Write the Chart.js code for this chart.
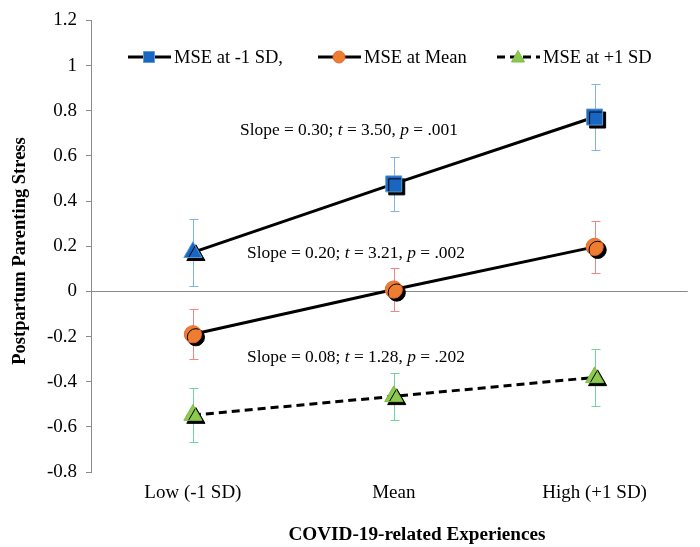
<!DOCTYPE html>
<html><head><meta charset="utf-8">
<script src="https://cdn.jsdelivr.net/npm/chart.js@4.4.1/dist/chart.umd.min.js"></script>
<style>html,body{margin:0;padding:0;background:#fff}#wrap{width:700px;height:547px;position:relative}</style>
</head><body><div id="wrap"><canvas id="c"></canvas></div>
<script>
// ---- data ----
const categories = ['Low (-1 SD)', 'Mean', 'High (+1 SD)'];
const seriesLabels = ['MSE at -1 SD,', 'MSE at Mean', 'MSE at +1 SD'];
const lowMSE = [0.173, 0.476, 0.772];
const meanMSE = [-0.19, 0.008, 0.197];
const highMSE = [-0.548, -0.465, -0.381];
const lowErr = [0.148, 0.12, 0.145];
const meanErr = [0.11, 0.097, 0.115];
const highErr = [0.12, 0.103, 0.126];
const yTickMin = -0.8, yTickMax = 1.2, yTickStep = 0.2;
const annotations = [
  [['Slope = 0.30; ','n'],['t','i'],[' = 3.50, ','n'],['p','i'],[' = .001','n']],
  [['Slope = 0.20; ','n'],['t','i'],[' = 3.21, ','n'],['p','i'],[' = .002','n']],
  [['Slope = 0.08; ','n'],['t','i'],[' = 1.28, ','n'],['p','i'],[' = .202','n']]
];
const xTitle = 'COVID-19-related Experiences';
const yTitle = 'Postpartum Parenting Stress';

// ---- styles ----
const FAM = "'Liberation Serif','Times New Roman',serif";
const series = [lowMSE, meanMSE, highMSE];
const errs = [lowErr, meanErr, highErr];
const fills = ['#1767c2', '#ed7d31', '#8dc94e'];
const borders = ['#5d9ad8', '#e8663a', '#7fbb45'];
const errColors = ['#7fb5e6', '#ef8585', '#72d39c'];
const styles = [['triangle','rect','rect'], 'circle', 'triangle'];
const radii = [[10.5, 11.3, 11.3], 8.6, 10.5];
const dashes = [[], [], [8, 5]];
const pts = arr => arr.map((v, i) => ({x: i, y: v}));

const datasets = [];
series.forEach((s, k) => {
  datasets.push({
    label: seriesLabels[k], data: pts(s), isMarker: true, showLine: false,
    pointStyle: styles[k], pointRadius: radii[k], pointHoverRadius: radii[k],
    pointBackgroundColor: fills[k], pointBorderColor: borders[k], pointBorderWidth: 1
  });
});
series.forEach((s, k) => {
  datasets.push({
    label: seriesLabels[k] + ' line', data: pts(s), borderColor: '#000', borderWidth: 3,
    borderDash: dashes[k], pointRadius: 0, tension: 0, fill: false
  });
});

const shadowPlugin = {
  id: 'shadow',
  beforeDatasetDraw(chart, args) {
    if (!chart.data.datasets[args.index].isMarker) return;
    const c = chart.ctx; c.save();
    c.shadowColor = '#000'; c.shadowOffsetX = 3; c.shadowOffsetY = 3; c.shadowBlur = 0;
  },
  afterDatasetDraw(chart, args) {
    if (!chart.data.datasets[args.index].isMarker) return;
    chart.ctx.restore();
  }
};

const errPlugin = {
  id: 'errbars',
  beforeDatasetsDraw(chart) {
    const c = chart.ctx, xs = chart.scales.x, ys = chart.scales.y;
    c.save(); c.lineWidth = 1;
    series.forEach((s, k) => {
      c.strokeStyle = errColors[k];
      s.forEach((v, i) => {
        const x = Math.round(xs.getPixelForValue(i)) + 0.5;
        const t = Math.round(ys.getPixelForValue(v + errs[k][i])) + 0.5;
        const b = Math.round(ys.getPixelForValue(v - errs[k][i])) + 0.5;
        c.beginPath();
        c.moveTo(x, t); c.lineTo(x, b);
        c.moveTo(x - 4, t); c.lineTo(x + 5, t);
        c.moveTo(x - 4, b); c.lineTo(x + 5, b);
        c.stroke();
      });
    });
    c.restore();
  }
};

const legendLine = [128, 318, 497];
const legendStyle = ['rect', 'circle', 'triangle'];
const legendPlugin = {
  id: 'customLegend',
  afterDraw(chart) {
    const c = chart.ctx, y = 57;
    c.save();
    seriesLabels.forEach((lab, k) => {
      const x0 = legendLine[k], mx = x0 + 21;
      c.strokeStyle = '#000'; c.lineWidth = 3; c.setLineDash(dashes[k]);
      c.beginPath(); c.moveTo(x0, y); c.lineTo(x0 + 43, y); c.stroke();
      c.setLineDash([]); c.lineWidth = 1;
      c.fillStyle = fills[k]; c.strokeStyle = borders[k];
      c.beginPath();
      if (legendStyle[k] === 'rect') { c.rect(mx - 5.5, y - 5.5, 11, 11); }
      else if (legendStyle[k] === 'circle') { c.arc(mx, y, 6, 0, Math.PI * 2); }
      else { c.moveTo(mx, y - 6.5); c.lineTo(mx + 6.5, y + 5); c.lineTo(mx - 6.5, y + 5); c.closePath(); }
      c.fill(); c.stroke();
      c.fillStyle = '#000'; c.font = '18.5px ' + FAM; c.textBaseline = 'middle'; c.textAlign = 'left';
      c.fillText(lab, x0 + 46, y + 1);
    });
    c.restore();
  }
};

const annPos = [[240, 130], [247, 253], [247, 357]];
const annPlugin = {
  id: 'ann',
  afterDatasetsDraw(chart) {
    const c = chart.ctx; c.save();
    c.fillStyle = '#000'; c.textBaseline = 'middle'; c.textAlign = 'left';
    annotations.forEach((parts, k) => {
      let x = annPos[k][0]; const y = annPos[k][1];
      parts.forEach(([txt, st]) => {
        c.font = (st === 'i' ? 'italic ' : '') + '17.4px ' + FAM;
        c.fillText(txt, x, y);
        x += c.measureText(txt).width;
      });
    });
    c.restore();
  }
};

const titlePlugin = {
  id: 'axisTitles',
  afterDraw(chart) {
    const c = chart.ctx; c.save();
    c.fillStyle = '#000'; c.textAlign = 'center'; c.textBaseline = 'middle';
    c.font = 'bold 19.2px ' + FAM;
    c.fillText(xTitle, 417, 535);
    c.font = 'bold 18.5px ' + FAM;
    c.translate(20, 251); c.rotate(-Math.PI / 2);
    c.fillText(yTitle, 0, 0);
    c.restore();
  }
};

new Chart(document.getElementById('c'), {
  type: 'line',
  data: {datasets},
  plugins: [errPlugin, shadowPlugin, annPlugin, legendPlugin, titlePlugin],
  options: {
    responsive: true, maintainAspectRatio: false, animation: false,
    layout: {padding: {left: 9, top: 20, right: 0, bottom: 0}},
    plugins: {legend: {display: false}, tooltip: {enabled: false}},
    scales: {
      x: {
        type: 'linear', min: -0.5073, max: 2.4634,
        afterBuildTicks: s => { s.ticks = categories.map((c, i) => ({value: i})); },
        afterFit: s => { s.height = 75; },
        ticks: {callback: v => categories[v], font: {family: FAM, size: 19}, color: '#000', padding: 10, maxRotation: 0, autoSkip: false},
        grid: {display: false, drawTicks: false}, border: {display: false},
        title: {display: false}
      },
      y: {
        min: yTickMin, max: yTickMax,
        afterFit: s => { s.width = 91 - 9; },
        ticks: {stepSize: yTickStep, callback: v => String(Math.round(v * 10) / 10), font: {family: FAM, size: 19}, color: '#000', padding: 9},
        grid: {color: ctx => (ctx.tick && Math.abs(ctx.tick.value) < 1e-9) ? '#8a8a8a' : 'rgba(0,0,0,0)', tickColor: '#8a8a8a', tickLength: 5, lineWidth: 1},
        border: {color: '#8a8a8a', width: 1},
        title: {display: false}
      }
    }
  }
});
</script></body></html>
